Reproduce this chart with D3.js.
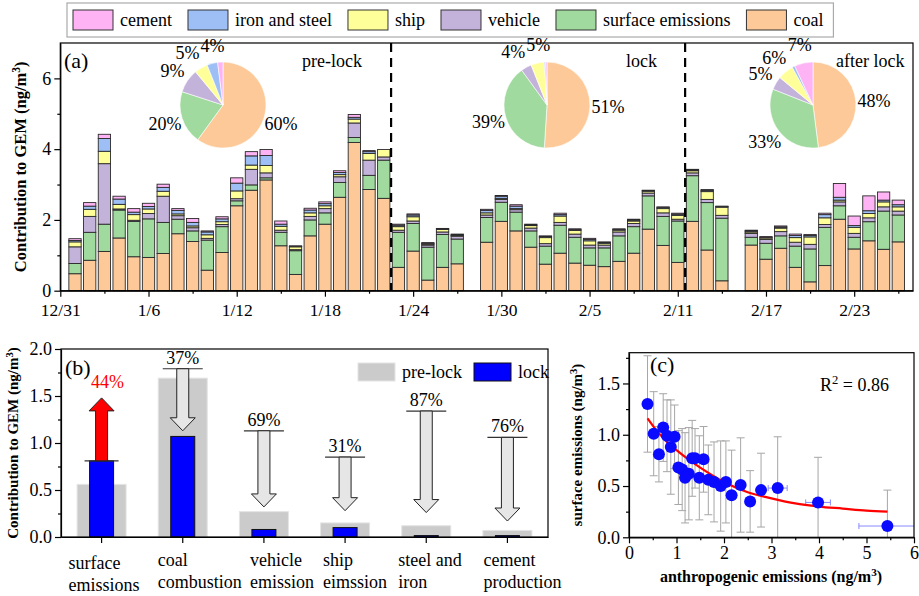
<!DOCTYPE html>
<html>
<head>
<meta charset="utf-8">
<script src="https://cdn.jsdelivr.net/npm/d3@7"></script>
<style>
  body { margin: 0; background: #fff; }
  svg text { font-family: "Liberation Serif", "Times New Roman", serif; fill: #000; }
  .axis path, .axis line { stroke: #000; stroke-width: 1.2; }
  .axis text { font-family: "Liberation Serif", "Times New Roman", serif !important; }
</style>
</head>
<body>
<script>
"use strict";

// ---------- panel (a): daily contributions, day = days after 12/31 ----------
const days = [1,2,3,4,5,6,7,8,9,10,11,12,13,14,15,16,17,18,19,20,21,22,
  23,24,25,26,27,29,30,31,32,33,34,35,36,37,38,39,40,41,42,
  43,44,45,47,48,49,50,51,52,53,54,55,56,57];
const coal = [0.48,0.86,1.11,1.49,0.96,0.94,1.05,1.61,1.39,0.58,1.08,2.40,2.84,3.13,1.27,0.46,1.55,1.88,2.64,4.19,2.86,2.61,
  0.66,1.12,0.30,0.66,0.76,1.37,1.96,1.69,1.23,0.75,1.06,0.78,0.72,0.68,0.83,1.06,1.74,1.28,0.80,
  1.96,1.15,0.28,1.29,0.89,1.20,0.66,0.25,0.71,2.02,1.18,1.41,1.17,1.38];
const surface = [0.29,0.79,0.77,0.79,1.00,1.09,0.88,0.41,0.30,0.85,0.73,0.14,0.15,0.06,0.38,0.67,0.45,0.32,0.42,0.14,0.40,1.08,
  0.99,0.78,0.93,0.93,0.70,0.70,0.54,0.53,0.46,0.51,0.79,0.73,0.49,0.53,0.72,0.75,0.94,0.82,1.17,
  1.29,1.34,1.77,0.22,0.45,0.35,0.60,0.93,1.08,0.38,0.33,0.54,1.08,0.76];
const vehicle = [0.47,0.45,1.71,0.03,0.03,0.15,0.74,0.10,0.09,0.05,0.06,0.06,0.44,0.14,0.06,0.03,0.10,0.12,0.16,0.41,0.43,0.09,
  0.06,0.07,0.06,0.07,0.08,0.07,0.08,0.07,0.08,0.07,0.08,0.09,0.08,0.08,0.11,0.09,0.08,0.10,0.05,
  0.08,0.09,0.08,0.11,0.11,0.12,0.11,0.13,0.08,0.11,0.11,0.11,0.12,0.11];
const ship = [0.14,0.20,0.35,0.13,0.16,0.13,0.14,0.05,0.05,0.10,0.08,0.22,0.12,0.21,0.11,0.08,0.10,0.08,0.06,0.11,0.19,0.21,
  0.10,0.12,0.03,0.07,0.02,0.06,0.03,0.03,0.07,0.17,0.18,0.10,0.12,0.05,0.05,0.07,0.05,0.12,0.11,
  0.06,0.22,0.23,0.04,0.04,0.10,0.13,0.21,0.19,0.05,0.17,0.12,0.14,0.12];
const iron = [0.04,0.09,0.36,0.15,0.07,0.07,0.11,0.10,0.10,0.08,0.08,0.22,0.26,0.28,0.06,0.01,0.08,0.06,0.06,0.05,0.05,0.00,
  0.04,0.05,0.02,0.02,0.02,0.07,0.06,0.07,0.02,0.03,0.04,0.03,0.04,0.02,0.02,0.03,0.02,0.03,0.03,
  0.02,0.03,0.02,0.03,0.02,0.03,0.06,0.04,0.09,0.08,0.05,0.08,0.05,0.06];
const cement = [0.05,0.10,0.12,0.08,0.10,0.09,0.09,0.05,0.11,0.03,0.06,0.15,0.12,0.17,0.09,0.02,0.05,0.05,0.05,0.08,0.03,0.00,
  0.03,0.03,0.02,0.01,0.02,0.03,0.02,0.04,0.02,0.02,0.04,0.02,0.03,0.02,0.02,0.02,0.01,0.02,0.03,
  0.02,0.03,0.01,0.02,0.02,0.03,0.04,0.03,0.04,0.39,0.27,0.42,0.23,0.13];

const dateTicks = [0,6,12,18,24,30,36,42,48,54];
const dateLabels = ["12/31","1/6","1/12","1/18","1/24","1/30","2/5","2/11","2/17","2/23"];
const periodBreaks = [22.5, 42.5];
const periodNames = ["pre-lock","lock","after lock"];

// pie shares (%), order: coal, surface, vehicle, ship, iron, cement
const preShare = [60,20,9,5,4,2];
const lockShare = [51,39,4,5,0.5,0.5];
const afterShare = [48,33,5,6,1,7];

const keys = ["coal","surface","vehicle","ship","iron","cement"];
const keyNames = {coal:"coal", surface:"surface emissions", vehicle:"vehicle", ship:"ship", iron:"iron and steel", cement:"cement"};
const colors = {coal:"#fdc998", surface:"#a0da9e", vehicle:"#c3b2da", ship:"#ffff99", iron:"#9dbff5", cement:"#fdb3f4"};

// ---------- panel (b) ----------
const sources = ["surface emissions","coal combustion","vehicle emission","ship eimssion","steel and iron","cement production"];
const sourceLines = [["surface","emissions"],["coal","combustion"],["vehicle","emission"],["ship","eimssion"],["steel and","iron"],["cement","production"]];
const preLock = [0.56,1.69,0.27,0.15,0.12,0.07];
const lockVal = [0.81,1.07,0.08,0.10,0.015,0.015];
const changeText = ["44%","37%","69%","31%","87%","76%"];
const arrowFrom = [0.81,1.79,1.13,0.85,1.34,1.06];
const arrowTo = [1.48,1.13,0.32,0.28,0.26,0.17];

// ---------- panel (c) ----------
const anthro = [0.39,0.52,0.63,0.72,0.80,0.88,0.96,1.04,1.12,1.18,1.26,1.33,1.39,1.48,1.57,1.67,1.79,1.93,2.04,2.16,2.35,2.55,2.78,3.13,3.98,5.44];
const surfEm = [1.30,1.01,0.81,1.07,0.99,0.88,0.98,0.68,0.66,0.58,0.62,0.77,0.77,0.58,0.76,0.56,0.54,0.50,0.54,0.41,0.51,0.35,0.46,0.48,0.34,0.11];
const surfErr = [0.47,0.41,0.27,0.33,0.35,0.46,0.31,0.36,0.40,0.44,0.45,0.37,0.29,0.41,0.32,0.34,0.39,0.44,0.40,0.44,0.46,0.30,0.36,0.50,0.44,0.35];
const anthroErr = [0,0,0,0,0,0,0,0,0,0,0,0,0,0,0,0,0,0,0,0,0,0,0,0.20,0.26,0.60];
const fitX = [0.39,0.6,0.8,1.0,1.25,1.5,2.0,2.5,3.0,3.5,4.0,4.5,5.0,5.44];
const fitY = [1.16,1.03,0.93,0.85,0.76,0.68,0.54,0.44,0.38,0.33,0.30,0.28,0.26,0.25];

const serif = "'Liberation Serif', 'Times New Roman', serif";
const svg = d3.select("body").append("svg").attr("width", 919).attr("height", 596);

function sup(sel, before, after) {
  sel.append("tspan").text(before);
  sel.append("tspan").attr("baseline-shift", "super").attr("font-size", "70%").text("3");
  sel.append("tspan").text(after);
}
function axisFont(g, size) {
  g.attr("font-family", null).attr("font-size", size);
  g.selectAll("text").style("font-family", serif).style("font-size", size + "px");
}

// ================= panel (a) =================
const xA = d3.scaleLinear().domain([0, 58]).range([60.3, 913]);
const yA = d3.scaleLinear().domain([0, 7]).range([290.7, 43]);

const rows = days.map((d, i) => ({
  day: d, coal: coal[i], surface: surface[i], vehicle: vehicle[i],
  ship: ship[i], iron: iron[i], cement: cement[i]
}));
const stacked = d3.stack().keys(keys)(rows);
const barW = 12.3;

svg.append("g").selectAll("g")
  .data(stacked)
  .join("g")
  .attr("fill", d => colors[d.key])
  .selectAll("rect")
  .data(d => d)
  .join("rect")
  .attr("x", d => xA(d.data.day) - barW / 2)
  .attr("y", d => yA(d[1]))
  .attr("width", barW)
  .attr("height", d => Math.max(0, yA(d[0]) - yA(d[1])))
  .attr("stroke", "#2a2a2a")
  .attr("stroke-width", 0.9);

// dashed period separators
svg.append("g").selectAll("line")
  .data(periodBreaks)
  .join("line")
  .attr("x1", d => xA(d)).attr("x2", d => xA(d))
  .attr("y1", yA(7)).attr("y2", yA(0))
  .attr("stroke", "#000").attr("stroke-width", 2.2)
  .attr("stroke-dasharray", "9,6");

// axes
svg.append("g").attr("class", "axis")
  .attr("transform", `translate(0,${yA(0)})`)
  .call(d3.axisBottom(xA).tickValues(dateTicks).tickFormat((d, i) => dateLabels[i]).tickSize(6).tickSizeOuter(0).tickPadding(7))
  .call(g => axisFont(g, 17.5));
svg.append("g").attr("class", "axis")
  .attr("transform", `translate(0,${yA(0)})`)
  .call(d3.axisBottom(xA).tickValues(dateTicks.map(d => d + 3)).tickFormat("").tickSize(3).tickSizeOuter(0))
  .call(g => g.select(".domain").remove());
svg.append("g").attr("class", "axis")
  .attr("transform", `translate(${xA(0)},0)`)
  .call(d3.axisLeft(yA).tickValues([0, 2, 4, 6]).tickFormat(d3.format("d")).tickSize(6).tickSizeOuter(0).tickPadding(3))
  .call(g => axisFont(g, 18));
svg.append("g").attr("class", "axis")
  .attr("transform", `translate(${xA(0)},0)`)
  .call(d3.axisLeft(yA).tickValues([1, 3, 5]).tickFormat("").tickSize(3).tickSizeOuter(0))
  .call(g => g.select(".domain").remove());
svg.append("rect")
  .attr("x", xA(0)).attr("y", yA(7))
  .attr("width", xA(58) - xA(0)).attr("height", yA(0) - yA(7))
  .attr("fill", "none").attr("stroke", "#000").attr("stroke-width", 1.2);

svg.append("text").attr("x", 64).attr("y", 68).attr("font-size", 22).text("(a)");

const yTitleA = svg.append("text")
  .attr("transform", `translate(26,${(yA(0) + yA(7)) / 2}) rotate(-90)`)
  .attr("text-anchor", "middle").attr("font-size", 16.5).attr("font-weight", "bold");
sup(yTitleA, "Contribution to GEM (ng/m", ")");

// period labels
const periodX = [302, 626, 836];
svg.append("g").selectAll("text")
  .data(periodNames)
  .join("text")
  .attr("x", (d, i) => periodX[i]).attr("y", 67)
  .attr("font-size", 18)
  .text(d => d);

// pies
const pie = d3.pie().sort(null).value(d => d);
const pieR = 43;
const arc = d3.arc().innerRadius(0).outerRadius(pieR);
const labelArc = d3.arc().innerRadius(61).outerRadius(61);
const pies = [
  {share: preShare, cx: 223, cy: 105},
  {share: lockShare, cx: 547, cy: 105},
  {share: afterShare, cx: 813, cy: 105}
];
pies.forEach(p => {
  const g = svg.append("g").attr("transform", `translate(${p.cx},${p.cy})`);
  const arcs = pie(p.share);
  g.selectAll("path")
    .data(arcs)
    .join("path")
    .attr("d", arc)
    .attr("fill", (d, i) => colors[keys[i]])
    .attr("stroke", "#fff").attr("stroke-width", 0.6);
  const labs = arcs.filter(d => d.data >= 3).map(d => {
    const c = labelArc.centroid(d);
    return {d: d, x: c[0], y: c[1] + 6};
  });
  const texts = g.selectAll("text")
    .data(labs)
    .join("text")
    .attr("text-anchor", "middle")
    .attr("font-size", 18)
    .attr("y", l => l.y)
    .text(l => l.d.data + "%");
  texts.each(function(l) { l.w = this.getComputedTextLength(); });
  // push apart labels that would touch each other
  const sorted = labs.slice().sort((a, b) => a.x - b.x);
  for (let i = 0; i < sorted.length - 1; i++) {
    const a = sorted[i], b = sorted[i + 1];
    if (Math.abs(a.y - b.y) < 13) {
      const over = (a.w + b.w) / 2 + 1 - (b.x - a.x);
      if (over > 0) { a.x -= over / 2; b.x += over / 2; }
    }
  }
  texts.attr("x", l => l.x);
});

// legend (a)
const legendOrder = ["cement","iron","ship","vehicle","surface","coal"];
const legG = svg.append("g");
let lx = 73;
legendOrder.forEach(k => {
  legG.append("rect").attr("x", lx).attr("y", 10).attr("width", 40).attr("height", 20)
    .attr("fill", colors[k]).attr("stroke", "#333").attr("stroke-width", 1);
  const t = legG.append("text").attr("x", lx + 47).attr("y", 26).attr("font-size", 18).text(keyNames[k]);
  lx += 47 + t.node().getComputedTextLength() + 16;
});
legG.insert("rect", ":first-child")
  .attr("x", 67).attr("y", 3).attr("width", lx - 67 - 6).attr("height", 34)
  .attr("fill", "#fff").attr("stroke", "#aaa").attr("stroke-width", 1.2);

// ================= panel (b) =================
const xB = d3.scaleBand().domain(sources).range([61, 548]);
const yB = d3.scaleLinear().domain([0, 2]).range([537, 349]);
const greyW = 49, blueW = 24;
const cB = d => xB(d) + xB.bandwidth() / 2;

svg.append("g").selectAll("rect")
  .data(sources)
  .join("rect")
  .attr("x", d => cB(d) - greyW / 2)
  .attr("y", (d, i) => yB(preLock[i]))
  .attr("width", greyW)
  .attr("height", (d, i) => yB(0) - yB(preLock[i]))
  .attr("fill", "#cbcbcb").attr("stroke", "#e4e4e4").attr("stroke-width", 1);

svg.append("g").selectAll("rect")
  .data(sources)
  .join("rect")
  .attr("x", d => cB(d) - blueW / 2)
  .attr("y", (d, i) => yB(lockVal[i]))
  .attr("width", blueW)
  .attr("height", (d, i) => yB(0) - yB(lockVal[i]))
  .attr("fill", "#0000ff").attr("stroke", "#111").attr("stroke-width", 1);

// change arrows
function arrowPath(cx, y0, y1) {
  const dir = y1 > y0 ? 1 : -1;
  const hb = y1 - dir * 13;
  return `M${cx - 6},${y0}L${cx + 6},${y0}L${cx + 6},${hb}L${cx + 12.5},${hb}L${cx},${y1}L${cx - 12.5},${hb}L${cx - 6},${hb}Z`;
}
svg.append("g").selectAll("line")
  .data(sources)
  .join("line")
  .attr("x1", (d, i) => cB(d) - (i === 0 ? 17 : 20))
  .attr("x2", (d, i) => cB(d) + (i === 0 ? 17 : 20))
  .attr("y1", (d, i) => yB(arrowFrom[i]))
  .attr("y2", (d, i) => yB(arrowFrom[i]))
  .attr("stroke", "#333").attr("stroke-width", 1.2);
svg.append("g").selectAll("path")
  .data(sources)
  .join("path")
  .attr("d", (d, i) => arrowPath(cB(d), yB(arrowFrom[i]), yB(arrowTo[i])))
  .attr("fill", (d, i) => arrowTo[i] > arrowFrom[i] ? "#ff0000" : "#e6e6e6")
  .attr("stroke", "#222").attr("stroke-width", 1);
svg.append("g").selectAll("text")
  .data(sources)
  .join("text")
  .attr("x", (d, i) => cB(d) + (arrowTo[i] > arrowFrom[i] ? 6 : 0))
  .attr("y", (d, i) => Math.min(yB(arrowFrom[i]), yB(arrowTo[i])) - (arrowTo[i] > arrowFrom[i] ? 10 : 5))
  .attr("text-anchor", "middle").attr("font-size", 18)
  .style("fill", (d, i) => arrowTo[i] > arrowFrom[i] ? "#ff0000" : "#000")
  .text((d, i) => changeText[i]);

// axes (b)
svg.append("g").attr("class", "axis")
  .attr("transform", `translate(0,${yB(0)})`)
  .call(d3.axisBottom(xB).tickSize(6).tickSizeOuter(0).tickFormat(""));
svg.append("g").attr("class", "axis")
  .attr("transform", "translate(61,0)")
  .call(d3.axisLeft(yB).tickValues([0, 0.5, 1, 1.5, 2]).tickFormat(d3.format(".1f")).tickSize(6).tickSizeOuter(0).tickPadding(3))
  .call(g => axisFont(g, 18));
svg.append("g").attr("class", "axis")
  .attr("transform", "translate(61,0)")
  .call(d3.axisLeft(yB).tickValues([0.25, 0.75, 1.25, 1.75]).tickFormat("").tickSize(3).tickSizeOuter(0))
  .call(g => g.select(".domain").remove());
svg.append("rect").attr("x", 61).attr("y", yB(2)).attr("width", 548 - 61).attr("height", yB(0) - yB(2))
  .attr("fill", "none").attr("stroke", "#000").attr("stroke-width", 1.2);

// category labels, left aligned slightly off the tick like the original
const labelShift = [-33, -25, -14, -22, -28, -24];
svg.append("g").selectAll("text")
  .data(sources)
  .join("text")
  .attr("font-size", 18)
  .each(function(d, i) {
    const t = d3.select(this);
    sourceLines[i].forEach((line, j) => {
      t.append("tspan")
        .attr("x", cB(d) + labelShift[i])
        .attr("y", 566 + j * 22 + (i === 0 ? 3 : 0))
        .text(line);
    });
  });

svg.append("text").attr("x", 65).attr("y", 375).attr("font-size", 22).text("(b)");
const yTitleB = svg.append("text")
  .attr("transform", `translate(18,${(yB(0) + yB(2)) / 2}) rotate(-90)`)
  .attr("text-anchor", "middle").attr("font-size", 15).attr("font-weight", "bold");
sup(yTitleB, "Contribution to GEM (ng/m", ")");

// legend (b)
const legB = [{name: "pre-lock", fill: "#cbcbcb", stroke: "#e4e4e4", x: 358}, {name: "lock", fill: "#0000ff", stroke: "#111", x: 474}];
legB.forEach(l => {
  svg.append("rect").attr("x", l.x).attr("y", 363).attr("width", 37).attr("height", 18)
    .attr("fill", l.fill).attr("stroke", l.stroke);
  svg.append("text").attr("x", l.x + 44).attr("y", 378).attr("font-size", 18).text(l.name);
});

// ================= panel (c) =================
const xC = d3.scaleLinear().domain([0, 6]).range([629, 914]);
const yC = d3.scaleLinear().domain([0, 1.8]).range([537.3, 352.7]);

svg.append("defs").append("clipPath").attr("id", "clipC")
  .append("rect").attr("x", 629).attr("y", 352.7).attr("width", 285).attr("height", 184.6);
const gC = svg.append("g").attr("clip-path", "url(#clipC)");

const pts = anthro.map((x, i) => ({x: x, y: surfEm[i], ey: surfErr[i], ex: anthroErr[i]}));
// y error bars
gC.append("g").selectAll("path")
  .data(pts)
  .join("path")
  .attr("d", d => `M${xC(d.x)},${yC(d.y - d.ey)}V${yC(d.y + d.ey)}M${xC(d.x) - 4},${yC(d.y - d.ey)}h8M${xC(d.x) - 4},${yC(d.y + d.ey)}h8`)
  .attr("stroke", "#a6a6a6").attr("stroke-width", 1).attr("fill", "none");
// x error bars
gC.append("g").selectAll("path")
  .data(pts.filter(d => d.ex > 0))
  .join("path")
  .attr("d", d => `M${xC(d.x - d.ex)},${yC(d.y)}H${xC(d.x + d.ex)}M${xC(d.x - d.ex)},${yC(d.y) - 3}v6M${xC(d.x + d.ex)},${yC(d.y) - 3}v6`)
  .attr("stroke", "#8a8aff").attr("stroke-width", 1).attr("fill", "none");

const fitLine = d3.line().x(d => xC(d[0])).y(d => yC(d[1])).curve(d3.curveMonotoneX);
gC.append("path")
  .datum(fitX.map((x, i) => [x, fitY[i]]))
  .attr("d", fitLine)
  .attr("fill", "none").attr("stroke", "#ff0000").attr("stroke-width", 2.2);

gC.append("g").selectAll("circle")
  .data(pts)
  .join("circle")
  .attr("cx", d => xC(d.x)).attr("cy", d => yC(d.y))
  .attr("r", 6).attr("fill", "#0a0aff");

svg.append("g").attr("class", "axis")
  .attr("transform", `translate(0,${yC(0)})`)
  .call(d3.axisBottom(xC).ticks(6).tickFormat(d3.format("d")).tickSize(6).tickSizeOuter(0).tickPadding(3))
  .call(g => axisFont(g, 18));
svg.append("g").attr("class", "axis")
  .attr("transform", `translate(0,${yC(0)})`)
  .call(d3.axisBottom(xC).tickValues(d3.range(0.5, 6, 1)).tickFormat("").tickSize(3).tickSizeOuter(0))
  .call(g => g.select(".domain").remove());
svg.append("g").attr("class", "axis")
  .attr("transform", "translate(629,0)")
  .call(d3.axisLeft(yC).tickValues([0, 0.5, 1, 1.5]).tickFormat(d3.format(".1f")).tickSize(6).tickSizeOuter(0).tickPadding(3))
  .call(g => axisFont(g, 18));
svg.append("g").attr("class", "axis")
  .attr("transform", "translate(629,0)")
  .call(d3.axisLeft(yC).tickValues([0.25, 0.75, 1.25, 1.75]).tickFormat("").tickSize(3).tickSizeOuter(0))
  .call(g => g.select(".domain").remove());
svg.append("rect").attr("x", 629).attr("y", 352.7).attr("width", 285).attr("height", 184.6)
  .attr("fill", "none").attr("stroke", "#000").attr("stroke-width", 1.2);

svg.append("text").attr("x", 650).attr("y", 372).attr("font-size", 22).text("(c)");
const r2 = svg.append("text").attr("x", 820).attr("y", 391).attr("font-size", 18);
r2.append("tspan").text("R");
r2.append("tspan").attr("baseline-shift", "super").attr("font-size", "70%").text("2");
r2.append("tspan").text(" = 0.86");

const xTitleC = svg.append("text").attr("x", 771).attr("y", 582)
  .attr("text-anchor", "middle").attr("font-size", 16).attr("font-weight", "bold");
sup(xTitleC, "anthropogenic emissions (ng/m", ")");
const yTitleC = svg.append("text")
  .attr("transform", `translate(582,${(yC(0) + yC(1.8)) / 2}) rotate(-90)`)
  .attr("text-anchor", "middle").attr("font-size", 15).attr("font-weight", "bold");
sup(yTitleC, "surface emissions (ng/m", ")");
</script>
</body>
</html>
